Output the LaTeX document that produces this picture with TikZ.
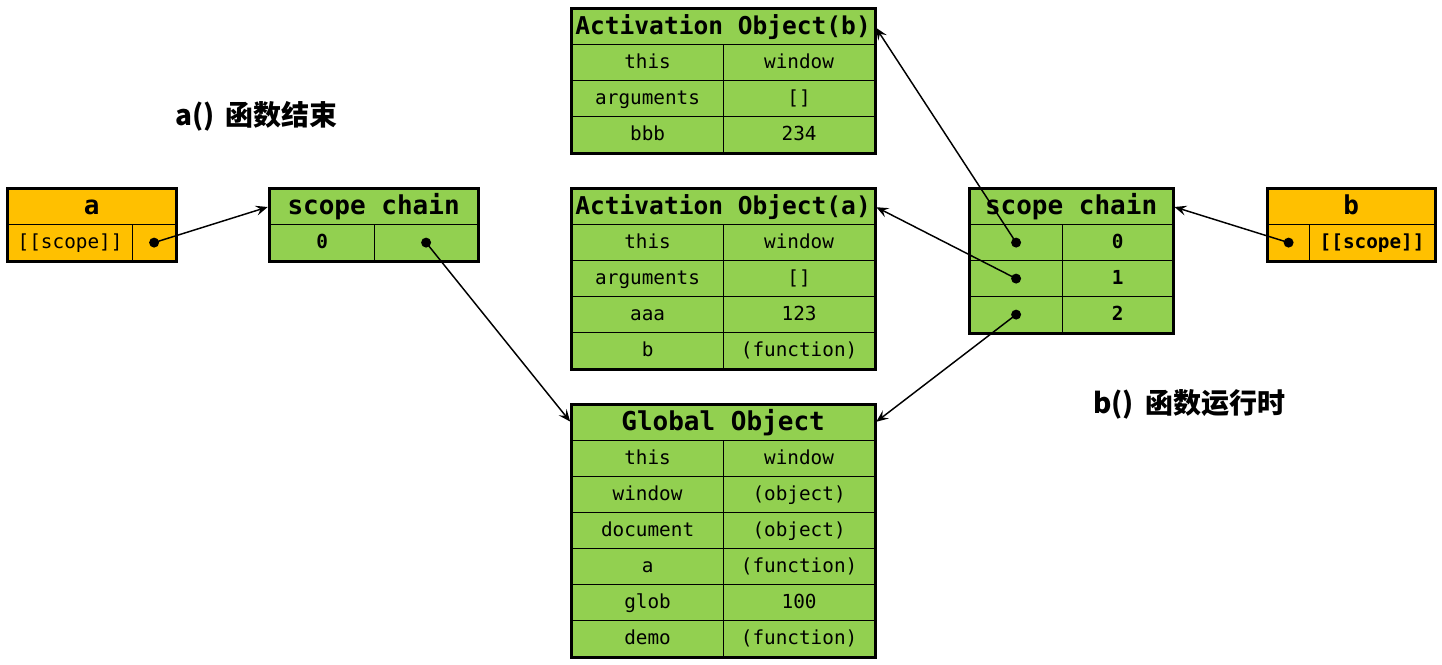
\documentclass[tikz,border=0pt]{standalone}
\usepackage{fontspec}
\setmonofont{DejaVu Sans Mono}
\newfontfamily\cjk{Noto Sans CJK SC}
\usepackage{tikz}
\usetikzlibrary{arrows.meta}
\usetikzlibrary{calc}
\definecolor{objgreen}{HTML}{92D050}
\definecolor{refyellow}{HTML}{FFC000}
\tikzstyle{cell}=[draw=black, line width=0.9pt, fill=objgreen, minimum height=27pt, inner sep=0pt, text height=11pt, text depth=2pt, font=\ttfamily\fontsize{14.5}{16}\selectfont]
\tikzstyle{headcell}=[cell, text height=15pt, text depth=3pt, font=\ttfamily\bfseries\fontsize{19.5}{22}\selectfont]
\tikzstyle{frame}=[draw=black, line width=2.25pt]
\tikzstyle{dot}=[circle, fill=black, minimum size=7.5pt, inner sep=0pt]
\tikzstyle{ptr}=[draw, line width=1.1pt, -{Stealth[length=9pt,width=7.5pt,inset=3.5pt]}, shorten >=1pt]
\tikzstyle{note}=[anchor=west, inner sep=0pt, font=\cjk\bfseries\fontsize{21}{24}\selectfont]

\begin{document}
\begin{tikzpicture}[x=0.75pt, y=-0.75pt]
    \useasboundingbox (0,0) rectangle (1442,664);

    % function a, [[scope]] of a
    \node[headcell, fill=refyellow, minimum width=168*0.75pt, anchor=north west] (A) at (7,188) {a};
    \node[cell, fill=refyellow, minimum width=125*0.75pt, anchor=north west] (Ak) at (7,224) {[[scope]]};
    \node[cell, fill=refyellow, minimum width=43*0.75pt, anchor=north west] (Av) at (132,224) {};
    \draw[frame] (A.north west) rectangle (Av.south east);
    \node[dot] (Ad) at (Av) {};

    % scope chain of a
    \node[headcell, minimum width=208*0.75pt, anchor=north west] (SA) at (269,188) {scope chain};
    \node[cell, minimum width=105*0.75pt, anchor=north west, font=\ttfamily\bfseries\fontsize{14.5}{16}\selectfont] (SAk) at (269,224) {0};
    \node[cell, minimum width=103*0.75pt, anchor=north west] (SAv) at (374,224) {};
    \draw[frame] (SA.north west) rectangle (SAv.south east);
    \node[dot] (SAd) at (SAv) {};

    % Activation Object(b)
    \node[headcell, minimum width=303*0.75pt, anchor=north west, font=\ttfamily\bfseries\fontsize{18.4}{22}\selectfont] (AOb) at (571,8) {Activation Object(b)};
    \foreach \k/\key/\val in {1/this/window, 2/arguments/{[]}, 3/bbb/234}
    {
        \node[cell, minimum width=152*0.75pt, anchor=north west] (AObk\k) at (571,8+36*\k) {\key};
        \node[cell, minimum width=151*0.75pt, anchor=north west] (AObv\k) at (723,8+36*\k) {\val};
    }
    \draw[frame] (AOb.north west) rectangle (AObv3.south east);

    % Activation Object(a)
    \node[headcell, minimum width=303*0.75pt, anchor=north west, font=\ttfamily\bfseries\fontsize{18.4}{22}\selectfont] (AOa) at (571,188) {Activation Object(a)};
    \foreach \k/\key/\val in {1/this/window, 2/arguments/{[]}, 3/aaa/123, 4/b/{(function)}}
    {
        \node[cell, minimum width=152*0.75pt, anchor=north west] (AOak\k) at (571,188+36*\k) {\key};
        \node[cell, minimum width=151*0.75pt, anchor=north west] (AOav\k) at (723,188+36*\k) {\val};
    }
    \draw[frame] (AOa.north west) rectangle (AOav4.south east);

    % Global Object
    \node[headcell, minimum width=303*0.75pt, anchor=north west] (GO) at (571,404) {Global Object};
    \foreach \k/\key/\val in {1/this/window, 2/window/{(object)}, 3/document/{(object)}, 4/a/{(function)}, 5/glob/100, 6/demo/{(function)}}
    {
        \node[cell, minimum width=152*0.75pt, anchor=north west] (GOk\k) at (571,404+36*\k) {\key};
        \node[cell, minimum width=151*0.75pt, anchor=north west] (GOv\k) at (723,404+36*\k) {\val};
    }
    \draw[frame] (GO.north west) rectangle (GOv6.south east);

    % scope chain of b
    \node[headcell, minimum width=203*0.75pt, anchor=north west] (SB) at (969,188) {scope chain};
    \foreach \k in {0,1,2}
    {
        \node[cell, minimum width=93*0.75pt, anchor=north west] (SBk\k) at (969,224+36*\k) {};
        \node[cell, minimum width=110*0.75pt, anchor=north west, font=\ttfamily\bfseries\fontsize{14.5}{16}\selectfont] (SBv\k) at (1062,224+36*\k) {\k};
        \node[dot] (SBd\k) at (SBk\k) {};
    }
    \draw[frame] (SB.north west) rectangle (SBv2.south east);

    % function b, [[scope]] of b
    \node[headcell, fill=refyellow, minimum width=167*0.75pt, anchor=north west] (B) at (1267,188) {b};
    \node[cell, fill=refyellow, minimum width=42*0.75pt, anchor=north west] (Bk) at (1267,224) {};
    \node[cell, fill=refyellow, minimum width=125*0.75pt, anchor=north west, font=\ttfamily\bfseries\fontsize{14.5}{16}\selectfont] (Bv) at (1309,224) {[[scope]]};
    \draw[frame] (B.north west) rectangle (Bv.south east);
    \node[dot] (Bd) at (Bk) {};

    % notes
    \node[note] (enda) at (175,116) {a()\, 函数结束};
    \node[note] (runb) at (1093,404) {b()\, 函数运行时};

    % pointers
    \draw[ptr] (Ad.center) -- (SA.west);
    \draw[ptr] (SAd.center) -- (GO.west);
    \draw[ptr] (SBd0.center) -- (AOb.east);
    \draw[ptr] (SBd1.center) -- (AOa.east);
    \draw[ptr] (SBd2.center) -- (GO.east);
    \draw[ptr] (Bd.center) -- (SB.east);
\end{tikzpicture}
\end{document}
